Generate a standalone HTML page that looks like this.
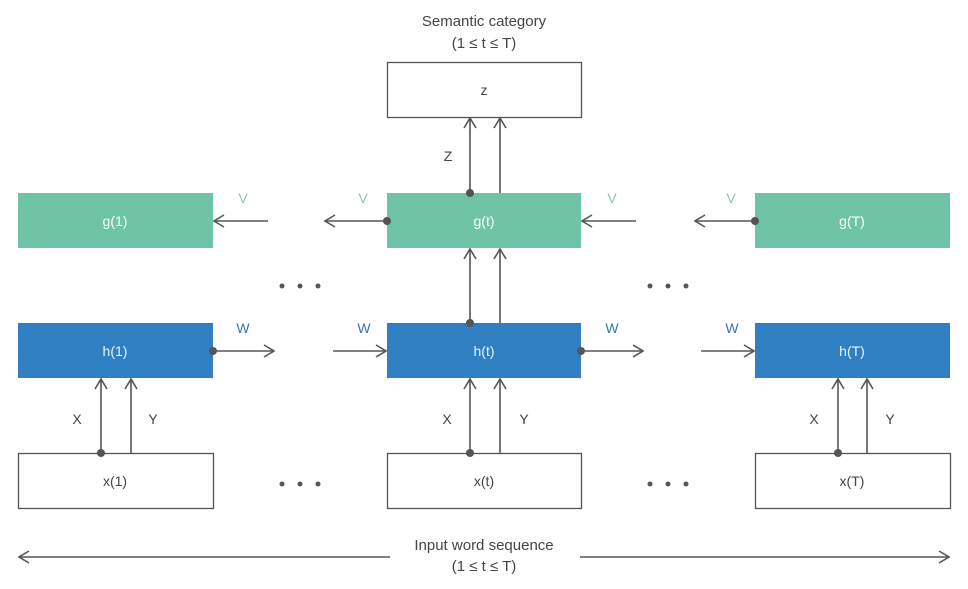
<!DOCTYPE html>
<html><head><meta charset="utf-8"><style>
html,body{margin:0;padding:0;background:#fff;}
svg{display:block;}
text{font-family:"Liberation Sans",sans-serif;}
</style></head><body>
<svg width="968" height="589" viewBox="0 0 968 589" xmlns="http://www.w3.org/2000/svg">
<defs>
<marker id="a" viewBox="0 0 12 14" refX="11" refY="7" markerWidth="12" markerHeight="14" markerUnits="userSpaceOnUse" orient="auto">
<path d="M1 1 L11 7 L1 13" fill="none" stroke="#555" stroke-width="1.6"/>
</marker>
</defs>
<g font-size="15" fill="#444" text-anchor="middle">
<text x="484" y="26">Semantic category</text>
<text x="484" y="48">(1 ≤ t ≤ T)</text>
</g>
<!-- z box -->
<rect x="387.5" y="62.5" width="194" height="55" fill="#fff" stroke="#555" stroke-width="1.3"/>
<text x="484" y="95" font-size="14" fill="#444" text-anchor="middle">z</text>
<!-- g row -->
<g fill="#6fc4a6">
<rect x="18" y="193" width="195" height="55"/>
<rect x="387" y="193" width="194" height="55"/>
<rect x="755" y="193" width="195" height="55"/>
</g>
<g fill="#fff" font-size="14" text-anchor="middle">
<text x="115" y="226">g(1)</text>
<text x="484" y="226">g(t)</text>
<text x="852" y="226">g(T)</text>
</g>
<!-- h row -->
<g fill="#2f7fc2">
<rect x="18" y="323" width="195" height="55"/>
<rect x="387" y="323" width="194" height="55"/>
<rect x="755" y="323" width="195" height="55"/>
</g>
<g fill="#e8f4ff" font-size="14" text-anchor="middle">
<text x="115" y="356">h(1)</text>
<text x="484" y="356">h(t)</text>
<text x="852" y="356">h(T)</text>
</g>
<!-- x row -->
<g fill="#fff" stroke="#555" stroke-width="1.3">
<rect x="18.5" y="453.5" width="195" height="55"/>
<rect x="387.5" y="453.5" width="194" height="55"/>
<rect x="755.5" y="453.5" width="195" height="55"/>
</g>
<g fill="#444" font-size="14" text-anchor="middle">
<text x="115" y="486">x(1)</text>
<text x="484" y="486">x(t)</text>
<text x="852" y="486">x(T)</text>
</g>
<!-- arrows -->
<g stroke="#555" stroke-width="1.6" fill="none" marker-end="url(#a)">
<line x1="101" y1="453" x2="101" y2="379"/>
<line x1="131" y1="453" x2="131" y2="379"/>
<line x1="470" y1="453" x2="470" y2="379"/>
<line x1="500" y1="453" x2="500" y2="379"/>
<line x1="838" y1="453" x2="838" y2="379"/>
<line x1="867" y1="453" x2="867" y2="379"/>
<line x1="470" y1="323" x2="470" y2="249"/>
<line x1="500" y1="323" x2="500" y2="249"/>
<line x1="470" y1="193" x2="470" y2="118"/>
<line x1="500" y1="193" x2="500" y2="118"/>
<line x1="213" y1="351" x2="274" y2="351"/>
<line x1="333" y1="351" x2="386" y2="351"/>
<line x1="581" y1="351" x2="643" y2="351"/>
<line x1="701" y1="351" x2="754" y2="351"/>
<line x1="268" y1="221" x2="214" y2="221"/>
<line x1="387" y1="221" x2="325" y2="221"/>
<line x1="636" y1="221" x2="582" y2="221"/>
<line x1="755" y1="221" x2="695" y2="221"/>
<line x1="390" y1="557" x2="19" y2="557"/>
<line x1="580" y1="557" x2="949" y2="557"/>
</g>
<g fill="#555">
<circle cx="101" cy="453" r="4"/><circle cx="470" cy="453" r="4"/><circle cx="838" cy="453" r="4"/>
<circle cx="470" cy="323" r="4"/><circle cx="470" cy="193" r="4"/>
<circle cx="213" cy="351" r="4"/><circle cx="581" cy="351" r="4"/>
<circle cx="387" cy="221" r="4"/><circle cx="755" cy="221" r="4"/>
<circle cx="282" cy="286" r="2.5"/><circle cx="300" cy="286" r="2.5"/><circle cx="318" cy="286" r="2.5"/>
<circle cx="650" cy="286" r="2.5"/><circle cx="668" cy="286" r="2.5"/><circle cx="686" cy="286" r="2.5"/>
<circle cx="282" cy="484" r="2.5"/><circle cx="300" cy="484" r="2.5"/><circle cx="318" cy="484" r="2.5"/>
<circle cx="650" cy="484" r="2.5"/><circle cx="668" cy="484" r="2.5"/><circle cx="686" cy="484" r="2.5"/>
</g>
<g font-size="14" fill="#444" text-anchor="middle">
<text x="77" y="424">X</text><text x="153" y="424">Y</text>
<text x="447" y="424">X</text><text x="524" y="424">Y</text>
<text x="814" y="424">X</text><text x="890" y="424">Y</text>
<text x="448" y="161">Z</text>
</g>
<g font-size="14" fill="#3a76b0" text-anchor="middle">
<text x="243" y="333">W</text><text x="364" y="333">W</text>
<text x="612" y="333">W</text><text x="732" y="333">W</text>
</g>
<g font-size="14" fill="#84c9ae" text-anchor="middle">
<text x="243" y="203">V</text><text x="363" y="203">V</text>
<text x="612" y="203">V</text><text x="731" y="203">V</text>
</g>
<g font-size="15" fill="#444" text-anchor="middle">
<text x="484" y="550">Input word sequence</text>
<text x="484" y="571">(1 ≤ t ≤ T)</text>
</g>
</svg>
</body></html>
